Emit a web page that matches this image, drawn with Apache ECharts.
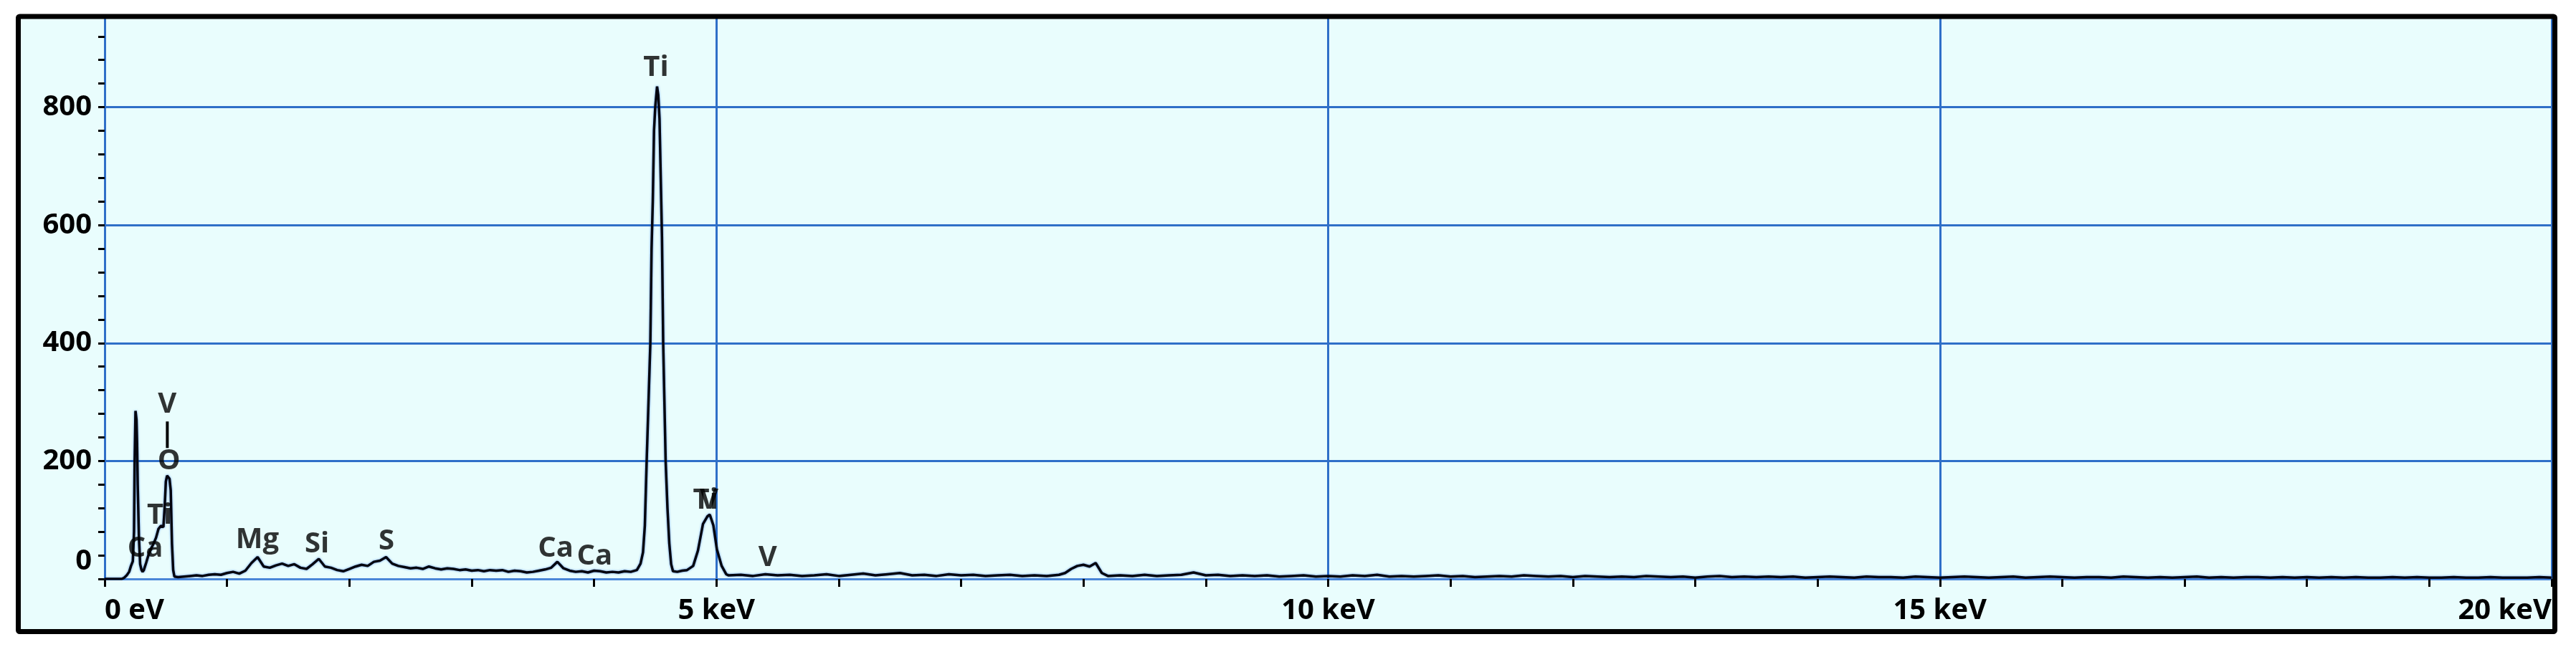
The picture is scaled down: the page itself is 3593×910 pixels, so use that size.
<!DOCTYPE html>
<html>
<head>
<meta charset="utf-8">
<title>EDS spectrum</title>
<script src="https://cdn.jsdelivr.net/npm/echarts@6/dist/echarts.min.js"></script>
<style>
  html, body { margin: 0; padding: 0; background: #fff; }
  #chart { width: 3593px; height: 910px; }
</style>
</head>
<body>
<div id="chart"></div>
<script>
// x axis: energy in keV, y axis: counts
const xTicks = [0, 5, 10, 15, 20]
const yTicks = [0, 200, 400, 600, 800]

// 0 - 0.6 keV, C / Ca L / Ti L / O region
const lowKeV = [0, 0.10, 0.14, 0.16, 0.18, 0.20, 0.215, 0.23, 0.24, 0.245, 0.252, 0.26, 0.265, 0.27, 0.28, 0.29,
  0.30, 0.31, 0.32, 0.34, 0.36, 0.38, 0.40, 0.42, 0.44, 0.46, 0.48, 0.49, 0.50, 0.51, 0.52, 0.53, 0.54, 0.55, 0.56, 0.57]
const lowCounts = [0, 0, 0, 2, 6, 12, 22, 30, 80, 200, 285, 270, 230, 160, 70, 25,
  16, 12, 15, 28, 42, 52, 60, 70, 85, 90, 88, 120, 165, 175, 176, 170, 150, 60, 15, 4]

// 0.60 - 4.35 keV, one value every 0.05 keV
const midStart = 0.60
const midStep = 0.05
const midCounts = [3, 4, 5, 6, 5, 7, 8, 7, 10, 12, 9, 14, 27, 37, 21, 19, 23, 26, 22, 25,
  19, 17, 25, 34, 21, 19, 15, 13, 17, 21, 24, 22, 29, 31, 37, 26, 22, 20, 18, 19,
  17, 21, 18, 16, 18, 17, 15, 16, 14, 15, 13, 15, 14, 15, 12, 14, 13, 11, 12, 14,
  16, 19, 29, 18, 14, 12, 13, 11, 14, 13, 11, 12, 11, 13, 12, 15]

// Ti K-alpha and K-beta / V K-alpha
const tiKeV = [4.38, 4.40, 4.415, 4.43, 4.445, 4.46, 4.47, 4.48, 4.49, 4.50, 4.515, 4.525, 4.535, 4.545, 4.555,
  4.565, 4.575, 4.585, 4.60, 4.615, 4.63, 4.645, 4.68, 4.72, 4.76, 4.81, 4.849, 4.89, 4.926, 4.946, 4.975,
  5.004, 5.043, 5.08]
const tiCounts = [26, 45, 90, 200, 300, 400, 560, 640, 760, 800, 835, 820, 780, 680, 580,
  400, 300, 200, 120, 60, 25, 13, 12, 14, 15, 22, 48, 93, 106, 109, 91,
  50, 22, 8]

// 5.1 - 20 keV tail, one value every 0.1 keV (Cu bump near 8 keV handled separately)
const tailStart = 5.1
const tailStep = 0.1
const tailCountsA = [6, 7, 5, 8, 6, 7, 5, 6, 8, 5, 7, 9, 6, 8, 10, 6, 7, 5, 8, 6, 7, 5, 6, 7, 5, 6, 5, 7]
const cuKeV = [7.85, 7.90, 7.95, 8.00, 8.05, 8.10, 8.15]
const cuCounts = [10, 17, 22, 24, 21, 27, 10]
const tail2Start = 8.2
const tailCountsB = [5, 6, 5, 7, 5, 6, 7, 11, 6, 7, 5, 6, 5, 6, 4, 5, 6, 4, 5,
  4, 6, 5, 7, 4, 5, 4, 5, 6, 4, 5, 3, 4, 5, 4, 6, 5, 4, 5, 3,
  5, 4, 3, 4, 3, 5, 4, 3, 4, 2, 4, 5, 3, 4, 3, 4, 3, 4, 2, 3,
  4, 3, 2, 4, 3, 3, 2, 4, 3, 2, 3, 4, 3, 2, 3, 4, 2, 3, 4, 3,
  2, 3, 3, 2, 4, 3, 2, 3, 2, 3, 4, 2, 3, 2, 3, 3, 2, 3, 2, 3,
  2, 3, 2, 3, 2, 2, 3, 2, 3, 2, 2, 3, 2, 2, 3, 2, 2, 2, 3, 2]

// element labels
const peakNames = ['Ca', 'Ti', 'O', 'V', 'Mg', 'Si', 'S', 'Ca', 'Ca', 'Ti', 'Ti', 'V', 'V']
const peakKeV = [0.332, 0.449, 0.526, 0.512, 1.248, 1.735, 2.303, 3.686, 4.004, 4.506, 4.912, 4.94, 5.419]
const peakLabelY = [51, 107, 200, 296, 66, 59, 64, 51, 38, 867, 133, 133, 36]
// vertical marker between the V and O labels
const vMarkerKeV = [0.512, 0.512]
const vMarkerY = [222, 267]

function buildSpectrum() {
  const pts = []
  lowKeV.forEach((e, i) => pts.push([e, lowCounts[i]]))
  midCounts.forEach((c, i) => pts.push([+(midStart + i * midStep).toFixed(3), c]))
  tiKeV.forEach((e, i) => pts.push([e, tiCounts[i]]))
  tailCountsA.forEach((c, i) => pts.push([+(tailStart + i * tailStep).toFixed(3), c]))
  cuKeV.forEach((e, i) => pts.push([e, cuCounts[i]]))
  tailCountsB.forEach((c, i) => pts.push([+(tail2Start + i * tailStep).toFixed(3), c]))
  return pts
}

const chart = echarts.init(document.getElementById('chart'))
const FONT = 'Open Sans'
const GRID_BLUE = '#2f6fc8'

const option = {
  animation: false,
  backgroundColor: '#ffffff',
  textStyle: { fontFamily: FONT },
  graphic: [{
    type: 'rect',
    z: -10,
    shape: { x: 25.5, y: 23, width: 3538, height: 858.5 },
    style: { fill: '#e9fdfd', stroke: null }
  }, {
    type: 'rect',
    z: 100,
    shape: { x: 25.5, y: 23, width: 3538, height: 858.5, r: 2 },
    style: { fill: null, stroke: '#000', lineWidth: 7 }
  }],
  grid: {
    left: 146,
    right: 34,
    top: 22,
    bottom: 102,
    outerBoundsMode: 'none'
  },
  xAxis: [{
    type: 'value',
    min: 0,
    max: 20,
    interval: 1,
    axisLine: { show: true, lineStyle: { color: '#4a86d8', width: 3 } },
    axisTick: { show: true, length: 11, lineStyle: { color: '#000', width: 3 } },
    axisLabel: {
      margin: 25,
      fontSize: 40,
      fontWeight: 'bold',
      fontFamily: FONT,
      color: '#000',
      alignMinLabel: 'left',
      alignMaxLabel: 'right',
      formatter: v => xTicks.indexOf(v) < 0 ? '' : (v === 0 ? '0 eV' : v + ' keV')
    },
    splitLine: { show: false }
  }, {
    type: 'value',
    min: 0,
    max: 20,
    interval: 5,
    axisLine: { show: false },
    axisTick: { show: false },
    axisLabel: { show: false },
    splitLine: { show: true, showMinLine: false, showMaxLine: true, lineStyle: { color: GRID_BLUE, width: 3 } }
  }],
  yAxis: [{
    type: 'value',
    min: 0,
    max: 955,
    interval: 40,
    axisLine: { show: true, lineStyle: { color: GRID_BLUE, width: 3 } },
    axisTick: { show: true, length: 9, lineStyle: { color: '#000', width: 3 } },
    axisLabel: {
      margin: 18,
      fontSize: 40,
      fontWeight: 'bold',
      fontFamily: FONT,
      color: '#000',
      formatter: v => v === 0 ? '{z|0}' : (yTicks.indexOf(v) < 0 ? '' : String(v)),
      rich: {
        z: { fontSize: 40, fontWeight: 'bold', fontFamily: FONT, color: '#000', padding: [0, 0, 48, 0] }
      }
    },
    splitLine: { show: false }
  }, {
    type: 'value',
    min: 0,
    max: 955,
    interval: 200,
    axisLine: { show: false },
    axisTick: { show: false },
    axisLabel: { show: false },
    splitLine: { show: true, showMinLine: false, showMaxLine: false, lineStyle: { color: GRID_BLUE, width: 3 } }
  }],
  series: [{
    name: 'spectrum',
    type: 'line',
    xAxisIndex: 0,
    yAxisIndex: 0,
    data: buildSpectrum(),
    showSymbol: false,
    symbol: 'none',
    z: 5,
    lineStyle: {
      color: '#05050f',
      width: 3.5,
      shadowColor: 'rgba(30, 100, 210, 0.7)',
      shadowBlur: 3
    }
  }, {
    name: 'vMarker',
    type: 'line',
    data: vMarkerKeV.map((e, i) => [e, vMarkerY[i]]),
    symbol: 'none',
    z: 6,
    lineStyle: { color: '#000', width: 4 }
  }, {
    name: 'elements',
    type: 'scatter',
    symbolSize: 0,
    z: 7,
    data: peakKeV.map((e, i) => ({ value: [e, peakLabelY[i]], name: peakNames[i] })),
    label: {
      show: true,
      position: 'inside',
      formatter: p => p.name,
      fontSize: 40,
      fontWeight: 'bold',
      fontFamily: FONT,
      color: '#000'
    }
  }]
}

chart.setOption(option)
</script>
</body>
</html>
